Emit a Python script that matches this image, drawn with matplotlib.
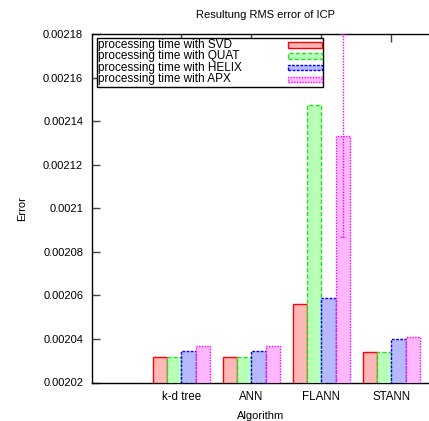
import matplotlib
matplotlib.use("Agg")
import matplotlib.pyplot as plt
from matplotlib.patches import Rectangle
import numpy as np

plt.rcParams['font.family'] = ['Liberation Sans', 'DejaVu Sans']

algorithms = ["k-d tree", "ANN", "FLANN", "STANN"]
svd = [0.0020317, 0.0020317, 0.002056, 0.0020338]
quat = [0.0020317, 0.0020317, 0.0021475, 0.0020338]
helix = [0.0020345, 0.0020345, 0.0020588, 0.0020398]
apx = [0.0020366, 0.0020366, 0.0021333, 0.0020408]
apx_err = [0.0, 0.0, 0.0000465, 0.0]

series = [
    ("processing time with SVD", svd, "#ffb8b8", "#ff0000", "-"),
    ("processing time with QUAT", quat, "#b8ffb8", "#22dd22", (0, (3, 1.5))),
    ("processing time with HELIX", helix, "#b8b8ff", "#0000ff", (0, (2, 1))),
    ("processing time with APX", apx, "#ffb8ff", "#ff00ff", (0, (1, 1))),
]

W, H = 429, 421
fig = plt.figure(figsize=(W / 100, H / 100), dpi=100)
ax = fig.add_axes([91.5 / W, 38.5 / H, (W - 91.5) / W, (382.5 - 34) / H])


def fx(px):
    return px / W


def fy(py):
    return 1 - py / H


x = np.arange(len(algorithms))
w = 0.203
for k, (label, vals, fc, ec, ls) in enumerate(series):
    pos = x + (k - 1.5) * w
    ax.bar(pos, np.array(vals) - 0.00202, w, bottom=0.00202, color=fc, edgecolor=ec,
           linestyle=ls, linewidth=1, label=label, zorder=3)

# error bar on the APX bars
apx_pos = x + 1.5 * w
for p, v, e in zip(apx_pos, apx, apx_err):
    if e > 0:
        ax.plot([p, p], [v - e, v + e], color="#ff00ff", linestyle=(0, (1, 1)),
                linewidth=1, zorder=4)
        ax.plot([p - 0.04, p + 0.04], [v - e, v - e], color="#ff00ff",
                linestyle=(0, (1, 1)), linewidth=1, zorder=4)
        ax.plot([p - 0.04, p + 0.04], [v + e, v + e], color="#ff00ff",
                linestyle=(0, (1, 1)), linewidth=1, zorder=4)

ax.set_ylim(0.00202, 0.00218)
ax.set_xlim(-1.2857, 3.536)
yt = np.arange(0.00202, 0.0021801, 0.00002)
ax.set_yticks(yt)
ax.set_yticklabels([("%.5f" % t).rstrip("0") for t in yt], fontsize=8)
ax.set_xticks(x)
ax.set_xticklabels(algorithms, fontsize=8.3)
ax.tick_params(axis="y", direction="in", length=6, width=1, color="#444444", pad=6)
ax.tick_params(axis="x", direction="in", length=6, width=1, color="#444444",
               top=True, pad=6)
ax.spines["right"].set_visible(False)
for s in ["left", "bottom", "top"]:
    ax.spines[s].set_linewidth(1)
ax.set_xlabel("Algorithm", fontsize=8, labelpad=6)
ax.set_ylabel("Error", fontsize=8)
ax.yaxis.set_label_coords((27 - 91.5) / (W - 91.5), 0.5)
fig.text(fx(265), fy(15), "Resultung RMS error of ICP", fontsize=8,
         ha="center", va="center")

# key box, gnuplot style: text on the left, samples on the right
fig.patches.append(Rectangle((fx(97), fy(86.5)), fx(323) - fx(97), fy(38) - fy(86.5),
                             transform=fig.transFigure, facecolor="white",
                             edgecolor="black", linewidth=1, zorder=5))
row_y = [45, 56, 67.5, 79]
for (label, vals, fc, ec, ls), ry in zip(series, row_y):
    fig.text(fx(98), fy(ry), label, fontsize=8.5, ha="left", va="center", zorder=6)
    fig.patches.append(Rectangle((fx(288), fy(ry + 2.5)), fx(322) - fx(288), fy(ry - 2.5) - fy(ry + 2.5),
                                 transform=fig.transFigure, facecolor=fc, edgecolor=ec,
                                 linestyle=ls, linewidth=1, zorder=6))

fig.savefig("out.png", dpi=100)
